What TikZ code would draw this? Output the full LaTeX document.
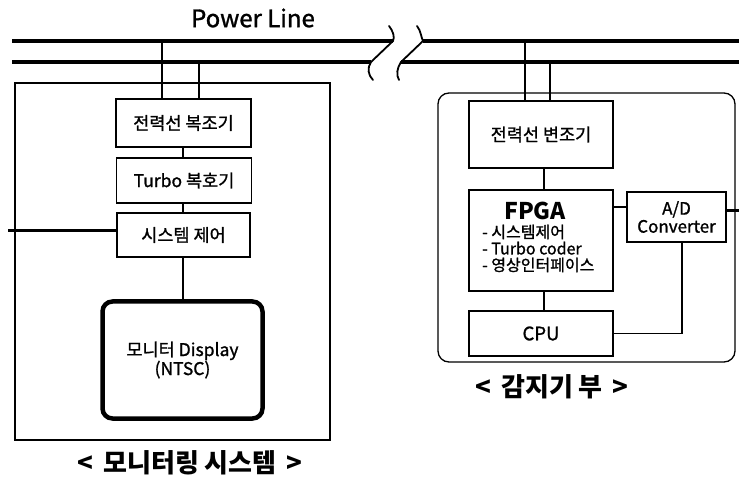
\documentclass[tikz,border=0pt]{standalone}
\usepackage{fontspec}
\setmainfont{Noto Sans CJK KR}
\newfontfamily\heavy[FakeBold=1.2]{Noto Sans CJK KR}
\begin{document}
\begin{tikzpicture}[x=1pt,y=-1pt,
  box/.style={draw,line width=1.3pt,inner sep=0pt,align=center,font=\heavy\fontsize{17.5}{20}\selectfont},
  pline/.style={line width=3.6pt},
  thin/.style={line width=1.3pt},
  brk/.style={line width=1.8pt},
  caption/.style={font=\fontsize{26}{28}\selectfont\bfseries}]
\useasboundingbox[fill=white] (0,0) rectangle (739,478);

% power line label
\node[font=\heavy\fontsize{24}{26}\selectfont] (pl) at (253,18) {Power Line};

% power lines with break
\coordinate (t1) at (12,41);
\coordinate (t2) at (393,41);
\coordinate (t3) at (423,41);
\coordinate (t4) at (739,41);
\coordinate (s1) at (12,62);
\coordinate (s2) at (371,62);
\coordinate (s3) at (401,62);
\coordinate (s4) at (739,62);
\draw[pline] (t1) -- (t2);
\draw[pline] (t3) -- (t4);
\draw[pline] (s1) -- (s2);
\draw[pline] (s3) -- (s4);
\draw[brk,line cap=round] (389,26) .. controls (393,31) and (395,37) .. (t2) -- (s2) .. controls (367,68) and (368,75) .. (373,80);
\draw[brk,line cap=round] (417,26) .. controls (421,31) and (421,37) .. (t3) -- (s3) .. controls (397,68) and (396,75) .. (399,80);

% left: monitoring system
\draw[thin] (15,83) rectangle (330,440);
\node[box,minimum width=135pt,minimum height=48pt] (demod) at (183.5,123) {전력선 복조기};
\node[box,minimum width=135pt,minimum height=45pt] (turbo) at (184,180.5) {Turbo 복호기};
\node[box,minimum width=133pt,minimum height=44pt] (ctrl) at (183.5,235) {시스템 제어};
\node[box,line width=4.5pt,rounded corners=10pt,minimum width=160pt,minimum height=117pt,font=\heavy\fontsize{17.5}{19}\selectfont] (disp) at (182.5,360) {모니터 Display\\(NTSC)};

\coordinate (pa) at (162,41);
\coordinate (pb) at (199,62);
\draw[thin] (pa) -- (pa |- demod.north);
\draw[thin] (pb) -- (pb |- demod.north);
\draw[thin] (demod.south -| 183,0) -- (turbo.north -| 183,0);
\draw[thin] (turbo.south -| 183,0) -- (ctrl.north -| 183,0);
\draw[thin] (ctrl.south -| 183,0) -- (disp.north -| 183,0);
\coordinate (ext) at (8,231);
\draw[line width=3pt] (ext) -- (ext -| ctrl.west);

\node[caption] (cap1) at (190,463) {<\hspace{4pt} 모니터링 시스템 \hspace{4pt}>};

% right: sensor unit
\draw[thin,rounded corners=11pt] (438,93) rectangle (735,362);
\node[box,minimum width=144pt,minimum height=67pt] (mod) at (541,134.5) {전력선 변조기};
\node[box,minimum width=144pt,minimum height=101pt] (fpga) at (541,240.5) {};
\node[font=\fontsize{23}{26}\selectfont\bfseries] (fpgat) at (535,211) {FPGA};
\node[anchor=north west,inner sep=0pt,align=left,font=\heavy\fontsize{16}{16.5}\selectfont] (fpgal) at (482,224.5) {- 시스템제어\\- Turbo coder\\- 영상인터페이스};
\node[box,minimum width=99pt,minimum height=50pt,font=\heavy\fontsize{17}{18}\selectfont] (adc) at (676.5,217) {A/D\\Converter};
\node[box,minimum width=144pt,minimum height=45pt,font=\heavy\fontsize{18.5}{20}\selectfont] (cpu) at (541,333.5) {CPU};

\coordinate (pc) at (525,41);
\coordinate (pd) at (550,62);
\draw[thin] (pc) -- (pc |- mod.north);
\draw[thin] (pd) -- (pd |- mod.north);
\draw[thin] (mod.south -| 544,0) -- (fpga.north -| 544,0);
\draw[thin] (fpga.south -| 544,0) -- (cpu.north -| 544,0);
\draw[thin] (fpga.east |- 0,207) -- (adc.west |- 0,207);
\coordinate (ext2) at (739,211);
\draw[line width=3pt] (adc.east |- ext2) -- (ext2);
\draw[thin] (adc.south -| 682,0) |- (cpu.east);

\node[caption] (cap2) at (552,387) {<\hspace{4pt} 감지기 부 \hspace{4pt}>};
\end{tikzpicture}
\end{document}
